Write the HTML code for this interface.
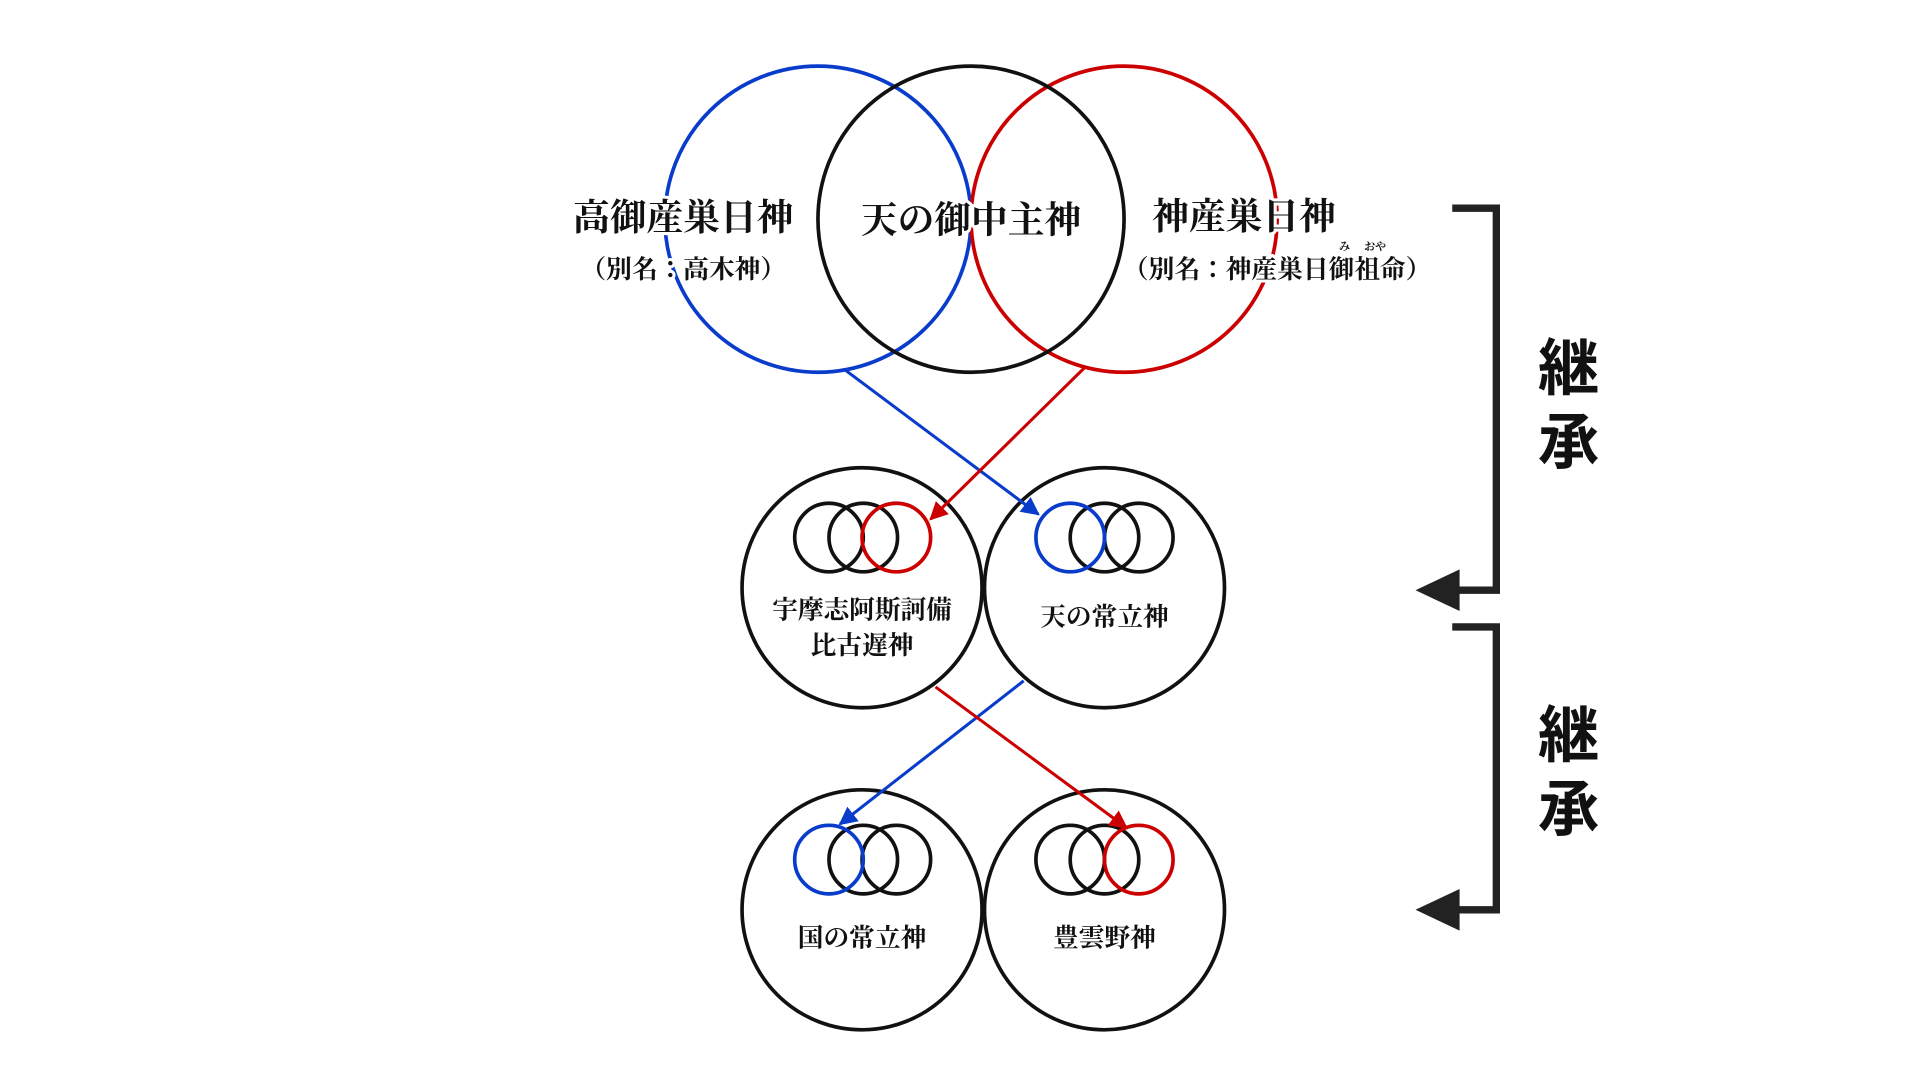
<!DOCTYPE html>
<html><head><meta charset="utf-8"><style>
html,body{margin:0;padding:0;background:#fff;width:1920px;height:1080px;overflow:hidden}
svg{display:block}
.t{font-family:"Liberation Serif","Noto Serif CJK JP","Noto Serif CJK SC",serif;font-weight:bold;fill:#111;text-anchor:middle;paint-order:stroke;stroke:#fff;stroke-width:5px;stroke-linejoin:round}
.k{font-family:"Liberation Sans","Noto Sans CJK JP",sans-serif;font-weight:bold;fill:#111;text-anchor:middle}
</style></head><body>
<svg width="1920" height="1080" viewBox="0 0 1568 882" preserveAspectRatio="none" xmlns="http://www.w3.org/2000/svg">
<defs>
<marker id="ab" viewBox="0 0 10 10" refX="9" refY="5" markerWidth="6" markerHeight="6" orient="auto"><path d="M0,0L10,5L0,10z" fill="#0a3ccc"/></marker>
<marker id="ar" viewBox="0 0 10 10" refX="9" refY="5" markerWidth="6" markerHeight="6" orient="auto"><path d="M0,0L10,5L0,10z" fill="#cc0000"/></marker>
</defs>
<g fill="none" stroke-width="3">
<circle cx="668" cy="179" r="125" stroke="#0a3ccc"/>
<circle cx="918" cy="179" r="125" stroke="#cc0000"/>
<circle cx="793" cy="179" r="125" stroke="#111"/>
<circle cx="704" cy="480" r="98" stroke="#111"/>
<circle cx="902" cy="480" r="98" stroke="#111"/>
<circle cx="704" cy="743" r="98" stroke="#111"/>
<circle cx="902" cy="743" r="98" stroke="#111"/>
<circle cx="677" cy="439" r="28" stroke="#111"/><circle cx="705" cy="439" r="28" stroke="#111"/><circle cx="732" cy="439" r="28" stroke="#cc0000"/>
<circle cx="930" cy="439" r="28" stroke="#111"/><circle cx="902" cy="439" r="28" stroke="#111"/><circle cx="874" cy="439" r="28" stroke="#0a3ccc"/>
<circle cx="732" cy="702" r="28" stroke="#111"/><circle cx="705" cy="702" r="28" stroke="#111"/><circle cx="677" cy="702" r="28" stroke="#0a3ccc"/>
<circle cx="874" cy="702" r="28" stroke="#111"/><circle cx="902" cy="702" r="28" stroke="#111"/><circle cx="930" cy="702" r="28" stroke="#cc0000"/>
</g>
<g stroke-width="2.5">
<line x1="690" y1="302" x2="848" y2="420" stroke="#0a3ccc" marker-end="url(#ab)"/>
<line x1="886" y1="300" x2="760" y2="424" stroke="#cc0000" marker-end="url(#ar)"/>
<line x1="836" y1="556" x2="686" y2="673" stroke="#0a3ccc" marker-end="url(#ab)"/>
<line x1="764" y1="561" x2="920" y2="676" stroke="#cc0000" marker-end="url(#ar)"/>
</g>
<text class="t" x="558" y="188" font-size="30">高御産巣日神</text>
<text class="t" x="558" y="227" font-size="21">（別名：高木神）</text>
<text class="t" x="793" y="190" font-size="30">天の御中主神</text>
<text class="t" x="1016" y="187" font-size="30">神産巣日神</text>
<text class="t" x="1043" y="227" font-size="21">（別名：神産巣日御祖命）</text>
<text class="t" x="1098" y="204" font-size="9" style="stroke-width:2px">み</text>
<text class="t" x="1123" y="204" font-size="9" style="stroke-width:2px">おや</text>
<text class="t" x="704" y="505" font-size="21">宇摩志阿斯訶備</text>
<text class="t" x="704" y="534" font-size="21">比古遅神</text>
<text class="t" x="902" y="511" font-size="21">天の常立神</text>
<text class="t" x="704" y="773" font-size="21">国の常立神</text>
<text class="t" x="902" y="773" font-size="21">豊雲野神</text>
<g fill="none" stroke="#222" stroke-width="6">
<polyline points="1186,170 1222,170 1222,482 1190,482"/>
<polyline points="1186,512 1222,512 1222,743 1190,743"/>
</g>
<path d="M1156,482L1192,465L1192,499z" fill="#222"/>
<path d="M1156,743L1192,726L1192,760z" fill="#222"/>
<text class="k" x="1281" y="318" font-size="50">継</text>
<text class="k" x="1281" y="378" font-size="50">承</text>
<text class="k" x="1281" y="618" font-size="50">継</text>
<text class="k" x="1281" y="678" font-size="50">承</text>
</svg>
</body></html>
